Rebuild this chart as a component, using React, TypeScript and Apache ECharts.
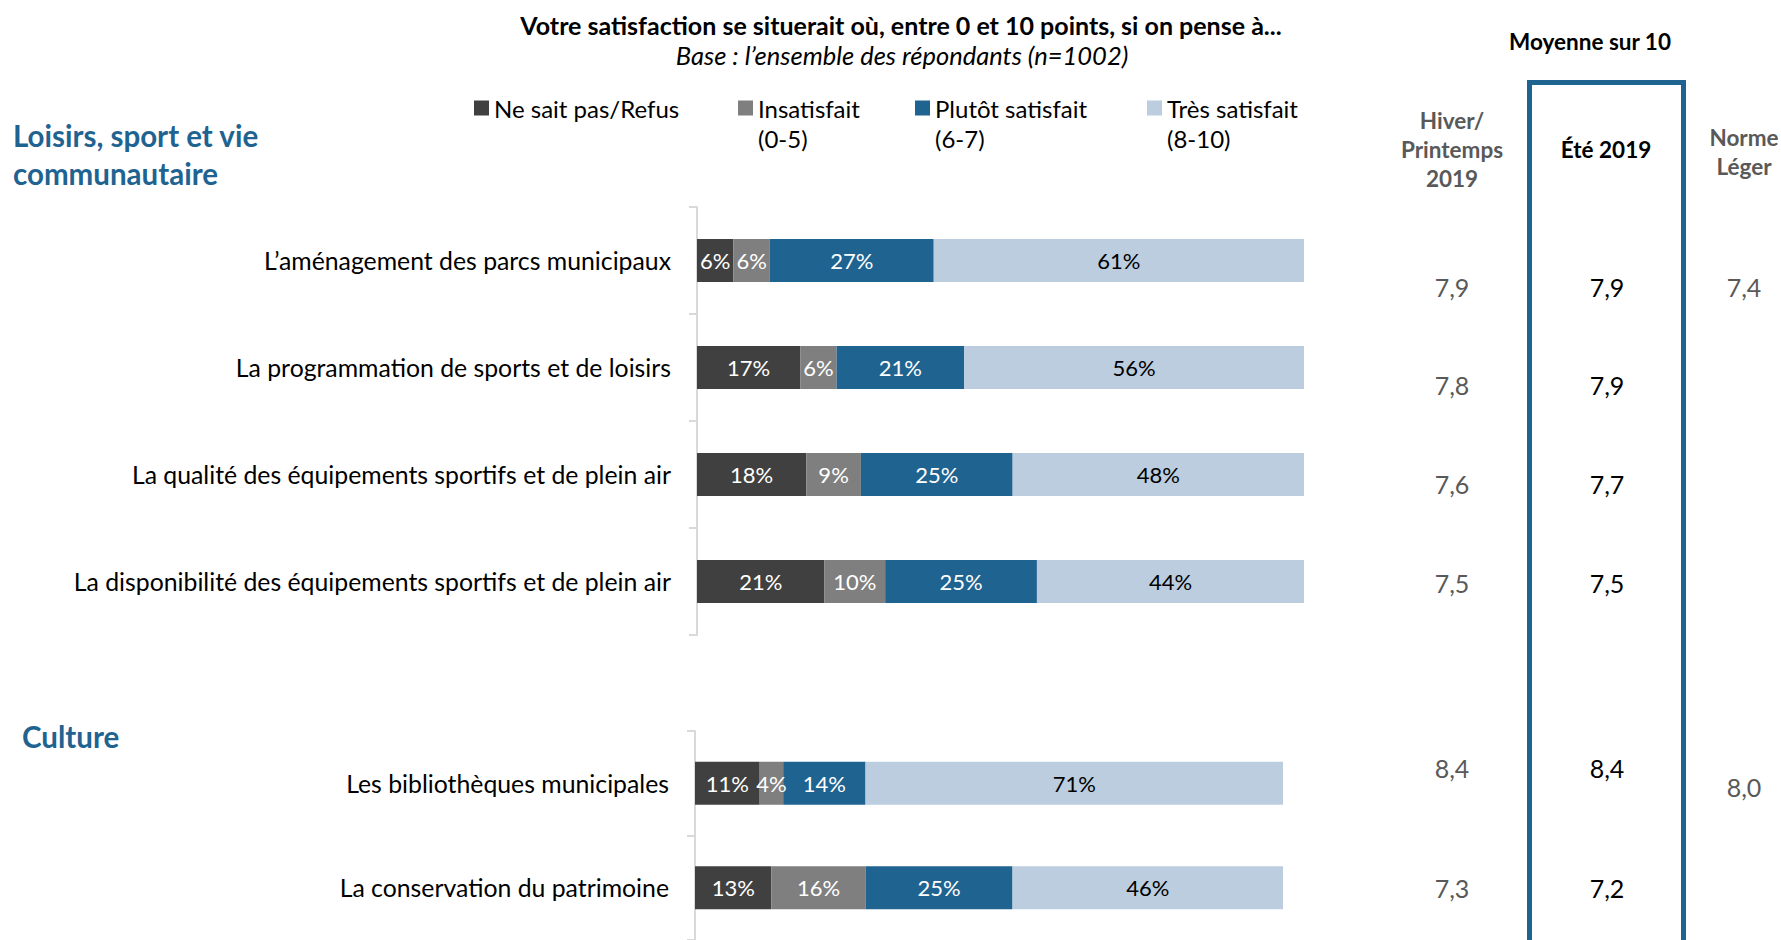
import React, { useEffect, useRef } from "react";
import * as echarts from "echarts";

const sportCategories = [
  "L’aménagement des parcs municipaux",
  "La programmation de sports et de loisirs",
  "La qualité des équipements sportifs et de plein air",
  "La disponibilité des équipements sportifs et de plein air",
];
const cultureCategories = [
  "Les bibliothèques municipales",
  "La conservation du patrimoine",
];
const seriesNames = [
  "Ne sait pas/Refus",
  "Insatisfait\n(0-5)",
  "Plutôt satisfait\n(6-7)",
  "Très satisfait\n(8-10)",
];
const sportNeSaitPas = [6, 17, 18, 21];
const sportInsatisfait = [6, 6, 9, 10];
const sportPlutot = [27, 21, 25, 25];
const sportTres = [61, 56, 48, 44];
const cultureNeSaitPas = [11, 13];
const cultureInsatisfait = [4, 16];
const culturePlutot = [14, 25];
const cultureTres = [71, 46];

const hiverPrintemps2019 = ["7,9", "7,8", "7,6", "7,5", "8,4", "7,3"];
const ete2019 = ["7,9", "7,9", "7,7", "7,5", "8,4", "7,2"];
const normeLeger = ["7,4", "8,0"];

const COLORS = ["#404040", "#7F7F7F", "#1F6391", "#BBCDDF"];
const LABEL_COLORS = ["#FFFFFF", "#FFFFFF", "#FFFFFF", "#000000"];
const FONT = "Lato, 'Open Sans', sans-serif";
const BLUE = "#1F6391";
const GREY_TXT = "#595959";

export default function App() {
  const ref = useRef<HTMLDivElement>(null);
  useEffect(() => {
    document.body.style.margin = "0";
    if (!ref.current) return;
    const chart = echarts.init(ref.current, null, { renderer: "svg" });

    const sportData = [sportNeSaitPas, sportInsatisfait, sportPlutot, sportTres];
    const cultureData = [cultureNeSaitPas, cultureInsatisfait, culturePlutot, cultureTres];

    const mkSeries = (data: number[][], idx: number) =>
      data.map((vals, i) => ({
        name: seriesNames[i],
        type: "bar",
        stack: "s" + idx,
        xAxisIndex: idx,
        yAxisIndex: idx,
        barWidth: 43,
        data: vals,
        itemStyle: { color: COLORS[i] },
        label: {
          show: true,
          position: "inside",
          formatter: "{c}%",
          color: LABEL_COLORS[i],
          fontSize: 22,
          fontFamily: FONT,
        },
      }));

    const yAxisCommon = {
      type: "category",
      inverse: true,
      axisLine: { show: true, lineStyle: { color: "#D9D9D9", width: 2 } },
      axisTick: { show: true, length: 8, lineStyle: { color: "#D9D9D9", width: 2 } },
      axisLabel: { color: "#000", fontSize: 24.8, fontFamily: FONT, margin: 26 },
    };

    const legendIconX = [474, 738, 915, 1147];
    const legends = seriesNames.map((n, i) => ({
      data: [n],
      left: legendIconX[i],
      top: i === 0 ? 93 : 63,
      padding: 0,
      itemWidth: 15,
      itemHeight: 15,
      itemGap: 8,
      selectedMode: false,
      icon: "rect",
      formatter: (name: string) => (name.indexOf("\n") >= 0 ? "\n" + name : name),
      textStyle: {
        fontSize: 24,
        fontFamily: FONT,
        color: "#000",
        lineHeight: 30,
      },
    }));

    const sportMeanY = [287, 385, 484, 583];
    const cultureMeanY = [768, 888];
    const meanY = [...sportMeanY, ...cultureMeanY];
    const normeY = [287, 787];

    const txt = (text: string, x: number, y: number, font: string, fill: string, align = "center") => ({
      type: "text",
      x,
      y,
      style: { text, font, fill, align, verticalAlign: "middle" },
    });

    const H = `bold 22.5px ${FONT}`;
    const graphics: any[] = [
      txt("Votre satisfaction se situerait où, entre 0 et 10 points, si on pense à...", 901, 25, `bold 25px ${FONT}`, "#000"),
      txt("Base : l’ensemble des répondants (n=1002)", 902, 55, `italic 25.5px ${FONT}`, "#000"),
      txt("Loisirs, sport et vie", 13, 135, `bold 29.5px ${FONT}`, BLUE, "left"),
      txt("communautaire", 13, 173, `bold 29.5px ${FONT}`, BLUE, "left"),
      txt("Culture", 22, 736, `bold 29.5px ${FONT}`, BLUE, "left"),
      txt("Moyenne sur 10", 1590, 41, H, "#000"),
      txt("Hiver/", 1452, 120, H, GREY_TXT),
      txt("Printemps", 1452, 149, H, GREY_TXT),
      txt("2019", 1452, 178, H, GREY_TXT),
      txt("Été 2019", 1606, 149, H, "#000"),
      txt("Norme", 1744, 137, H, GREY_TXT),
      txt("Léger", 1744, 166, H, GREY_TXT),
      {
        type: "rect",
        shape: { x: 1529.5, y: 82.5, width: 154, height: 900 },
        style: { fill: "none", stroke: BLUE, lineWidth: 5 },
      },
    ];
    hiverPrintemps2019.forEach((v, i) => graphics.push(txt(v, 1452, meanY[i], `25px ${FONT}`, GREY_TXT)));
    ete2019.forEach((v, i) => graphics.push(txt(v, 1607, meanY[i], `25px ${FONT}`, "#000")));
    normeLeger.forEach((v, i) => graphics.push(txt(v, 1744, normeY[i], `25px ${FONT}`, GREY_TXT)));

    chart.setOption({
      animation: false,
      backgroundColor: "#fff",
      textStyle: { fontFamily: FONT },
      legend: legends,
      grid: [
        { left: 697, top: 207, width: 607, height: 428 },
        { left: 695, top: 731, width: 588, height: 216 },
      ],
      xAxis: [
        { type: "value", gridIndex: 0, min: 0, max: 100, show: false },
        { type: "value", gridIndex: 1, min: 0, max: 100, show: false },
      ],
      yAxis: [
        { ...yAxisCommon, gridIndex: 0, data: sportCategories },
        { ...yAxisCommon, gridIndex: 1, data: cultureCategories },
      ],
      series: [...mkSeries(sportData, 0), ...mkSeries(cultureData, 1)],
      graphic: graphics,
    });
    return () => chart.dispose();
  }, []);
  return <div ref={ref} style={{ width: 1781, height: 940 }} />;
}
